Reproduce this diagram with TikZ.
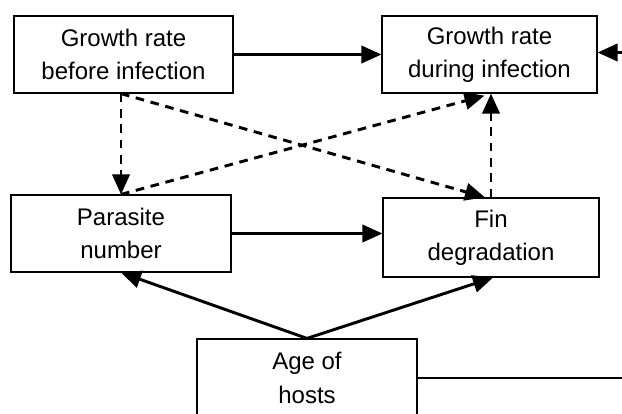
\documentclass[tikz,border=0pt]{standalone}
\usepackage{fontspec}
\setmainfont{Liberation Sans}
\usetikzlibrary{arrows.meta,calc}

\tikzset{every picture/.style={line width=0.75pt}}
\tikzset{
  factorbox/.style={draw, line width=0.9pt, align=center, inner sep=0pt,
    font=\fontsize{18}{25}\selectfont},
  effect/.style={line width=2.2pt, -{Triangle[length=15pt,width=13pt]}},
  weakeffect/.style={effect, dash pattern=on 6.5pt off 5pt}
}

\begin{document}
\begin{tikzpicture}[x=0.75pt,y=0.75pt,yscale=-1]
\useasboundingbox (0,0) rectangle (622,414);
\clip (0,0) rectangle (622,414);

% Boxes
\node [factorbox, minimum width=164.25pt, minimum height=57.75pt] (growthbefore) at (123.5,54.5) {Growth rate\\before infection};
\node [factorbox, minimum width=161.25pt, minimum height=57.75pt] (growthduring) at (489.5,54.5) {Growth rate\\during infection};
\node [factorbox, minimum width=165pt, minimum height=57.75pt] (parasite) at (121,233.5) {Parasite\\number};
\node [factorbox, minimum width=162pt, minimum height=59.25pt] (fin) at (491,237.5) {Fin\\degradation};
\node [factorbox, minimum width=165pt, minimum height=58.5pt] (age) at (307,378) {Age of\\hosts};

% Free ends
\coordinate (rightin) at (622,52.5);
\coordinate (rightout) at (622,378);

%Straight Lines
\draw [effect] (growthbefore.east) -- (growthduring.west);
\draw [effect] (rightin) -- (growthduring.east |- rightin);
\draw [effect] (parasite.east) -- (parasite.east -| fin.west);
\draw [effect] (age.north) -- (parasite.south);
\draw [effect] (age.north) -- ($(fin.south)+(2,0)$);
\draw [line width=2.2pt] (age.east) -- (rightout);

%Dashed Lines
\draw [weakeffect] (parasite.north |- growthbefore.south) -- (parasite.north);
\draw [weakeffect] (parasite.north |- growthbefore.south) -- ($(fin.north)+(-6,0)$);
\draw [weakeffect] (parasite.north) -- ($(growthduring.south)+(-5,2)$);
\draw [weakeffect] (fin.north) -- (fin.north |- growthduring.south);

\end{tikzpicture}
\end{document}
